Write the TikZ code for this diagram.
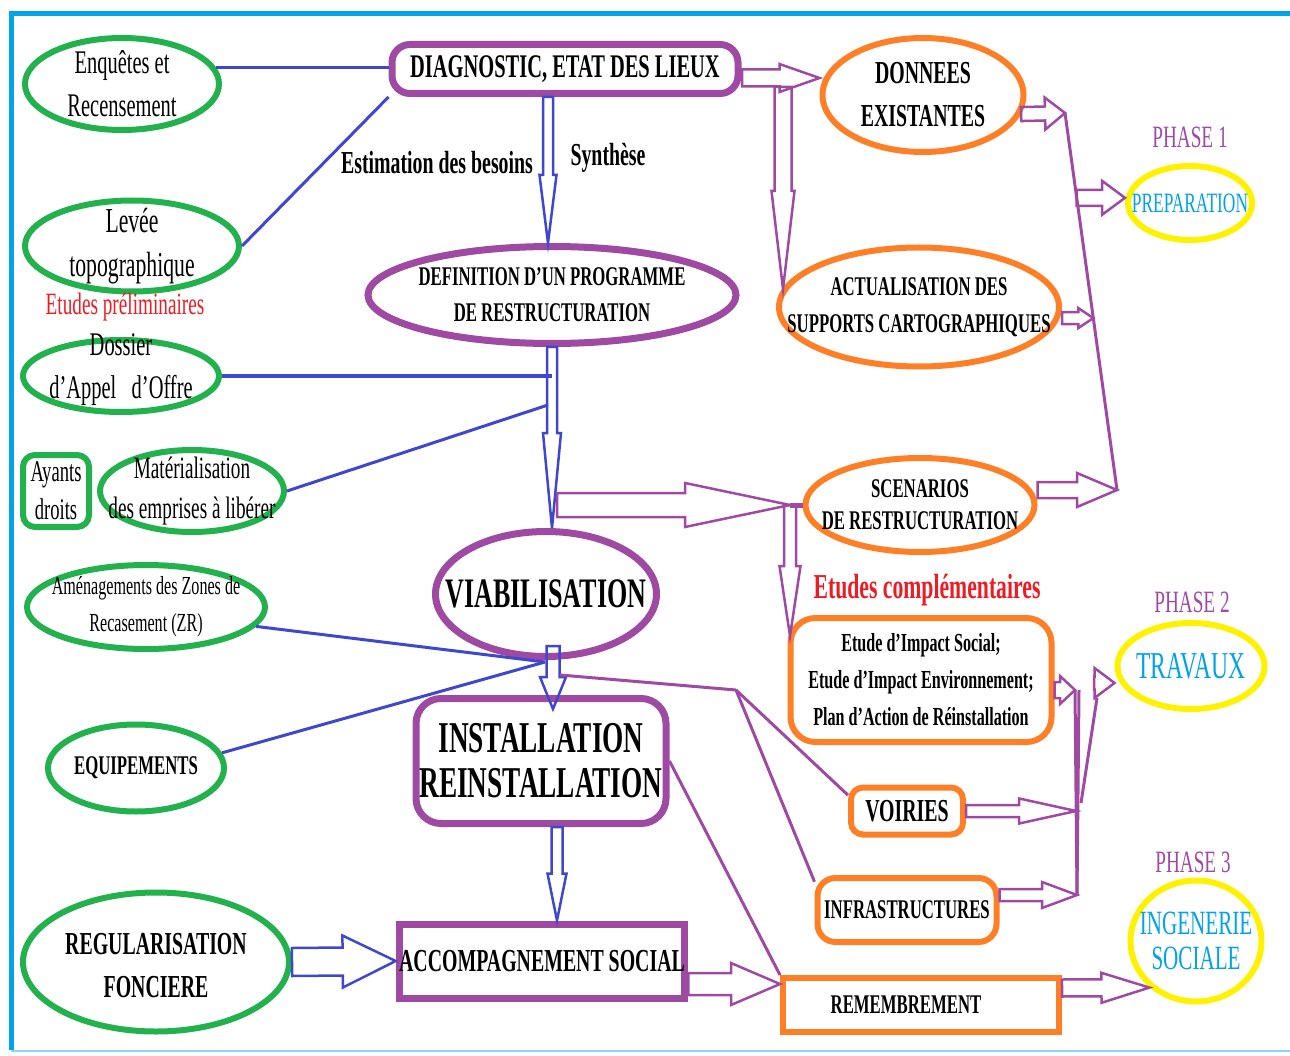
\documentclass[tikz,border=0pt]{standalone}
\usepackage{fontspec}
\setmainfont[FakeStretch=0.62]{Liberation Serif}
\usepackage{tikz}
\usetikzlibrary{shapes.geometric, calc}
\usepackage{xcolor}
\definecolor{framecyan}{HTML}{00A2E8}
\definecolor{ovalgreen}{HTML}{22B14C}
\definecolor{boxpurple}{HTML}{9E4AA3}
\definecolor{boxorange}{HTML}{FF7F27}
\definecolor{ovalyellow}{HTML}{FFF200}
\definecolor{linkblue}{HTML}{3F48CC}
\definecolor{textred}{HTML}{ED1C24}
\definecolor{textcyan}{HTML}{00A2E8}

\newcommand{\sz}[2]{\fontsize{#1}{#2}\selectfont}

% hollow block arrow: colour, from, to, shaft half width, head half width, head length
\newcommand{\hollowarrow}[6]{%
  \path (#2) coordinate (ha-a) (#3) coordinate (ha-b);
  \path ($(ha-b)!#6!(ha-a)$) coordinate (ha-c);
  \draw[#1, line width=2.5pt, line join=miter]
    ($(ha-a)!#4!90:(ha-b)$) -- ($(ha-c)!#4!-90:(ha-a)$) -- ($(ha-c)!#5!-90:(ha-a)$)
    -- (ha-b) -- ($(ha-c)!#5!90:(ha-a)$) -- ($(ha-c)!#4!90:(ha-a)$)
    -- ($(ha-a)!#4!-90:(ha-b)$) -- cycle;
}

\tikzset{%
	green oval/.style={ellipse, draw=ovalgreen, line width=6pt, inner sep=0pt},
	purple oval/.style={ellipse, draw=boxpurple, line width=7pt, inner sep=0pt},
	orange oval/.style={ellipse, draw=boxorange, line width=6pt, inner sep=0pt},
	yellow oval/.style={ellipse, draw=ovalyellow, line width=6pt, inner sep=0pt},
	green box/.style={rectangle, draw=ovalgreen, line width=6pt, inner sep=0pt, align=center},
	purple box/.style={rectangle, draw=boxpurple, line width=7pt, inner sep=0pt, align=center},
	orange box/.style={rectangle, draw=boxorange, line width=6pt, inner sep=0pt, align=center},
	oval text/.style={align=center, inner sep=0pt},
	blue link/.style={draw=linkblue, line width=3pt},
	purple link/.style={draw=boxpurple, line width=3pt},
}

\begin{document}
\begin{tikzpicture}[x=1pt, y=-1pt]
	\useasboundingbox (0,0) rectangle (1290,1056);
	
	% frame
	\draw[framecyan, line width=5pt] (1295,14) -- (11,14) -- (11,1050);
	\draw[framecyan!45, line width=2.5pt] (11,1051) -- (1295,1051);
	
	% left column
	\node[green oval, minimum width=194, minimum height=92,
		label={[oval text, font=\sz{33}{43}]center:Enquêtes et\\Recensement}] (enq) at (122,84) {};
	\node[green oval, minimum width=214, minimum height=91,
		label={[oval text, font=\sz{35}{44}]center:Levée\\topographique}] (lev) at (132,246) {};
	\node[text=textred, font=\sz{31}{34}] (etprel) at (125,307) {Etudes préliminaires};
	\node[green oval, minimum width=196, minimum height=72,
		label={[oval text, font=\sz{33}{43}, yshift=6]center:Dossier\\d'Appel~~~d'Offre}] (dos) at (121,376) {};
	\node[green box, rounded corners=12, minimum width=66, minimum height=72,
		font=\sz{30}{38}] (ayants) at (56,491) {Ayants\\droits};
	\node[green oval, minimum width=184, minimum height=82,
		label={[oval text, font=\sz{31}{40}]center:Matérialisation\\des emprises à libérer}] (mat) at (192,491) {};
	\node[green oval, minimum width=238, minimum height=84,
		label={[oval text, font=\sz{26}{37}]center:Aménagements des Zones de\\Recasement (ZR)}] (amen) at (146,607) {};
	\node[green oval, minimum width=176, minimum height=87,
		label={[oval text, font=\sz{27}{30}\bfseries]center:EQUIPEMENTS}] (equip) at (136,768) {};
	\node[green oval, minimum width=266, minimum height=139,
		label={[oval text, font=\sz{32}{43}\bfseries, yshift=-4]center:REGULARISATION\\FONCIERE}] (regul) at (156,962) {};
	
	% centre column
	\node[purple box, rounded corners=18, minimum width=346, minimum height=49,
		font=\sz{33}{36}\bfseries] (diag) at (565,69) {DIAGNOSTIC, ETAT DES LIEUX};
	\node[font=\sz{32}{36}\bfseries] (estim) at (437,163) {Estimation des besoins};
	\node[font=\sz{32}{36}\bfseries] (synth) at (608,158) {Synthèse};
	\node[purple oval, minimum width=368, minimum height=97,
		label={[oval text, font=\sz{27}{36}\bfseries]center:DEFINITION D'UN PROGRAMME\\DE RESTRUCTURATION}] (def) at (552,295) {};
	\node[purple oval, minimum width=221, minimum height=125,
		label={[oval text, font=\sz{42}{46}\bfseries]center:VIABILISATION}] (viab) at (546,594) {};
	\node[purple box, rounded corners=25, minimum width=250, minimum height=125,
		font=\sz{44}{45}\bfseries] (inst) at (541,761) {INSTALLATION\\REINSTALLATION};
	\node[purple box, minimum width=284, minimum height=74,
		font=\sz{32}{36}\bfseries] (acc) at (542,961) {ACCOMPAGNEMENT SOCIAL};
	
	% right column
	\node[orange oval, minimum width=201, minimum height=114,
		label={[oval text, font=\sz{32}{43}\bfseries]center:DONNEES\\EXISTANTES}] (don) at (923,95) {};
	\node[orange oval, minimum width=280, minimum height=119,
		label={[oval text, font=\sz{27}{37}\bfseries]center:ACTUALISATION DES\\SUPPORTS CARTOGRAPHIQUES}] (act) at (919,307) {};
	\node[orange oval, minimum width=229, minimum height=94,
		label={[oval text, font=\sz{27}{32}\bfseries]center:SCENARIOS\\DE RESTRUCTURATION}] (scen) at (920,505) {};
	\node[text=textred, font=\sz{35}{38}\bfseries] (etcomp) at (927,590) {Etudes complémentaires};
	\node[orange box, rounded corners=25, minimum width=261, minimum height=124,
		font=\sz{26}{37}\bfseries] (etu) at (921,680)
		{Etude d'Impact Social;\\Etude d'Impact Environnement;\\Plan d'Action de Réinstallation};
	\node[orange box, rounded corners=12, minimum width=112, minimum height=47,
		font=\sz{32}{34}\bfseries] (voir) at (907,811) {VOIRIES};
	\node[orange box, rounded corners=18, minimum width=179, minimum height=64,
		font=\sz{27}{30}\bfseries] (infra) at (907,910) {INFRASTRUCTURES};
	\node[orange box, minimum width=276, minimum height=54,
		label={[oval text, font=\sz{27}{30}\bfseries, xshift=-15]center:REMEMBREMENT}] (remb) at (921,1005) {};
	
	% phases
	\node[text=boxpurple, font=\sz{31}{34}] (ph1) at (1190,137) {PHASE 1};
	\node[yellow oval, minimum width=124, minimum height=74,
		label={[oval text, text=textcyan, font=\sz{28}{30}]center:PREPARATION}] (prep) at (1190,203) {};
	\node[text=boxpurple, font=\sz{31}{34}] (ph2) at (1192,602) {PHASE 2};
	\node[yellow oval, minimum width=147, minimum height=86,
		label={[oval text, text=textcyan, font=\sz{38}{40}]center:TRAVAUX}] (trav) at (1191,666) {};
	\node[text=boxpurple, font=\sz{31}{34}] (ph3) at (1193,862) {PHASE 3};
	\node[yellow oval, minimum width=131, minimum height=121,
		label={[oval text, text=textcyan, font=\sz{34}{35}]center:INGENERIE\\SOCIALE}] (ing) at (1196,941) {};
	
	% junction points
	\coordinate (j1) at (548,405);
	\coordinate (j2) at (545,662);
	\coordinate (j3) at (742,78);
	\coordinate (j4) at (783,87);
	\coordinate (actin) at (783,289);
	\coordinate (j5) at (557,505);
	\coordinate (j6) at (790,505);
	\coordinate (etuin) at (790,636);
	\coordinate (j8) at (560,675);
	\coordinate (j7) at (736,690);
	\coordinate (h1a) at (1065,113);
	\coordinate (h1b) at (1117,490);
	\coordinate (h1c) at ($(h1a)!0.225!(h1b)$);
	\coordinate (h1d) at ($(h1a)!0.544!(h1b)$);
	\coordinate (h2a) at (1075,690);
	\coordinate (h2b) at (1077,895);
	\coordinate (h2c) at (1081,803);
	\coordinate (h2d) at (1097,698);
	\coordinate (h2e) at (1094,683);
	\coordinate (h2f) at ($(h2a)!0.59!(h2b)$);
	
	% blue links
	\draw[blue link] (enq.10) -- (enq.10 -| diag.west);
	\draw[blue link] (lev.east) -- (diag.south west);
	\draw[blue link] (dos.east) -- (dos.east -| def.south);
	\draw[blue link] (mat.east) -- (j1);
	\draw[blue link] (amen.-10) -- (j2);
	\draw[blue link] (equip.10) -- (j2);
	
	% blue block arrows
	\hollowarrow{linkblue}{[xshift=-17]diag.south}{[xshift=-4]def.north}{5pt}{8.5pt}{68pt}
	\hollowarrow{linkblue}{def.south}{def.south |- viab.north}{5pt}{9pt}{95pt}
	\hollowarrow{linkblue}{[xshift=7,yshift=14]viab.south}{[xshift=12,yshift=-14]inst.north}{6.5pt}{13pt}{32pt}
	\hollowarrow{linkblue}{[xshift=16]inst.south}{[xshift=15]acc.north}{5.5pt}{9.5pt}{47pt}
	\hollowarrow{linkblue}{regul.east}{acc.west}{14pt}{26pt}{53pt}
	
	% purple block arrows
	\hollowarrow{boxpurple}{j3}{j3 -| don.west}{8.5pt}{14pt}{40pt}
	\hollowarrow{boxpurple}{j4}{actin}{8.5pt}{11.5pt}{98pt}
	\hollowarrow{boxpurple}{don.-11}{h1a}{7pt}{16pt}{20pt}
	\hollowarrow{boxpurple}{act.east |- h1d}{h1d}{6pt}{10pt}{15pt}
	\hollowarrow{boxpurple}{h1c}{h1c -| prep.west}{8pt}{17pt}{23pt}
	\hollowarrow{boxpurple}{scen.east |- h1b}{h1b}{8pt}{17pt}{40pt}
	\hollowarrow{boxpurple}{j5}{j6}{12pt}{22pt}{105pt}
	\hollowarrow{boxpurple}{j6}{etuin}{6pt}{10.5pt}{70pt}
	\hollowarrow{boxpurple}{etu.east |- h2a}{h2a}{8pt}{14pt}{15pt}
	\hollowarrow{boxpurple}{voir.east}{voir.east -| h2f}{6pt}{12.5pt}{57pt}
	\hollowarrow{boxpurple}{infra.east |- h2b}{h2b}{6pt}{13pt}{35pt}
	\hollowarrow{boxpurple}{h2e}{h2e -| trav.west}{6.5pt}{15pt}{20pt}
	\hollowarrow{boxpurple}{[yshift=-23]acc.east}{[yshift=21]remb.west}{11pt}{21pt}{49pt}
	\hollowarrow{boxpurple}{[yshift=17]remb.east}{ing.-135}{8.5pt}{15pt}{48pt}
	
	% purple links
	\draw[purple link] (h1a) -- (h1b);
	\draw[purple link] (h2a) -- (h2b);
	\draw[purple link] ([xshift=4]h2a) -- (h2b);
	\draw[purple link] (h2c) -- (h2d);
	\draw[purple link, line width=5pt] (j6) -- (scen.west);
	\draw[purple link] (j8) -- (j7);
	\draw[purple link] (j7) -- (voir.165);
	\draw[purple link] (j7) -- (infra.163);
	\draw[purple link] (inst.east) -- (remb.north west);
\end{tikzpicture}
\end{document}
